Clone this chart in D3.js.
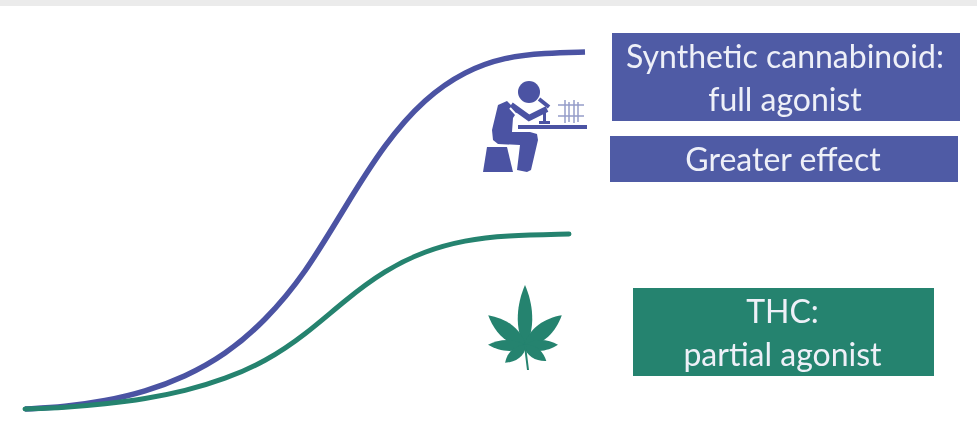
<!DOCTYPE html>
<html>
<head>
<meta charset="utf-8">
<script src="https://cdnjs.cloudflare.com/ajax/libs/d3/7.8.5/d3.min.js"></script>
<style>
  html, body { margin: 0; padding: 0; background: #fff; }
  svg { display: block; filter: blur(0.6px); }
  text { font-family: Lato, "Open Sans", sans-serif; fill: #eef0f8; text-anchor: middle; }
</style>
</head>
<body>
<div id="chart"></div>
<script>
// response curves
const fullDoses = [0, 7.14, 14.29, 21.43, 28.57, 35.71, 42.86, 50, 57.14, 64.29, 71.43, 78.57, 85.71, 92.86, 100];
const fullAgonist = [0, 0.6, 2.2, 4.8, 9, 15.1, 24.6, 37.8, 56.6, 74.5, 87.1, 94.7, 98.6, 99.7, 100];
const partialDoses = [0, 7.14, 14.29, 21.43, 28.57, 35.71, 42.86, 50, 57.14, 64.29, 71.43, 78.57, 85.71, 97.14];
const partialAgonist = [0, 0.4, 1.4, 2.8, 5, 8.4, 13.2, 20.7, 30.5, 38.9, 44.3, 47.3, 48.6, 49];

const purple = '#4f5ba5';
const curvePurple = '#4b53a3';
const green = '#25836f';

const labels = [
  { lines: ['Synthetic cannabinoid:', 'full agonist'], box: [612, 33, 348, 88], color: purple },
  { lines: ['Greater effect'], box: [610, 136, 348, 46], color: purple },
  { lines: ['THC:', 'partial agonist'], box: [633, 288, 301, 88], color: green }
];

// leaflets of the cannabis icon: angle from vertical, length, half width
const leaflets = [
  { angle: 0, length: 61, width: 8 },
  { angle: -50, length: 48, width: 8.5 },
  { angle: 50, length: 48, width: 8.5 },
  { angle: -88, length: 37, width: 6 },
  { angle: 88, length: 33, width: 6 },
  { angle: -130, length: 26, width: 6 },
  { angle: 125, length: 26, width: 6 }
];

const width = 977;
const height = 441;

const svg = d3.select('#chart')
  .append('svg')
  .attr('width', width)
  .attr('height', height);

svg.append('rect')
  .attr('width', width)
  .attr('height', 6)
  .attr('fill', '#ebebeb');

const x = d3.scaleLinear().domain([0, 100]).range([25, 585]);
const y = d3.scaleLinear().domain([0, 100]).range([409, 52]);

const line = d3.line()
  .x(d => x(d[0]))
  .y(d => y(d[1]))
  .curve(d3.curveBasis);

svg.append('path')
  .attr('d', line(d3.zip(fullDoses, fullAgonist)))
  .attr('fill', 'none')
  .attr('stroke', curvePurple)
  .attr('stroke-width', 5.5);

svg.append('path')
  .attr('d', line(d3.zip(partialDoses, partialAgonist)))
  .attr('fill', 'none')
  .attr('stroke', green)
  .attr('stroke-width', 5)
  .attr('stroke-linecap', 'round');

// label boxes
labels.forEach(label => {
  const [bx, by, bw, bh] = label.box;
  svg.append('rect')
    .attr('x', bx)
    .attr('y', by)
    .attr('width', bw)
    .attr('height', bh)
    .attr('fill', label.color);
  const lineHeight = 43;
  const top = by + bh / 2 - (label.lines.length - 1) * lineHeight / 2;
  label.lines.forEach((t, i) => {
    svg.append('text')
      .attr('x', bx + bw / 2 - 1)
      .attr('y', top + i * lineHeight + 1)
      .attr('dy', '0.35em')
      .attr('font-size', 32)
      .text(t);
  });
});

// scientist icon
const scientist = svg.append('g').attr('fill', curvePurple).attr('stroke', 'none');
scientist.append('circle').attr('cx', 529).attr('cy', 92).attr('r', 11);
scientist.append('path').attr('d', 'M487 147L507 147L513 172L483 172Z');
scientist.append('path')
  .attr('d', 'M507 101L498 105L492 130L493 140L498 144L520 145L517 170L527 172L531 170L538 140L537 134L530 132L512 132L513 118L517 112L510 104Z');
scientist.append('path')
  .attr('d', 'M511 105L529 118L547 109')
  .attr('fill', 'none')
  .attr('stroke', curvePurple)
  .attr('stroke-width', 6);
scientist.append('path')
  .attr('d', 'M510 108L521 120')
  .attr('fill', 'none')
  .attr('stroke', '#fff')
  .attr('stroke-width', 2);
scientist.append('path')
  .attr('d', 'M539 99L549 107')
  .attr('fill', 'none')
  .attr('stroke', curvePurple)
  .attr('stroke-width', 4);
scientist.append('rect').attr('x', 518).attr('y', 125).attr('width', 69).attr('height', 4);
scientist.append('path')
  .attr('d', 'M539 121L550 121L550 124L539 124ZM543 113L546 113L546 121L543 121Z');
const rack = svg.append('g').attr('stroke', purple).attr('stroke-width', 1.5).attr('fill', 'none').attr('opacity', 0.6);
rack.append('path').attr('d', 'M558 105L584 105M558 116L584 116M565 100L565 123M574 100L574 123M569 102L569 122M578 102L578 122');

// cannabis icon
const leaf = svg.append('g')
  .attr('transform', 'translate(525,346)')
  .attr('fill', green);

leaf.selectAll('path.leaflet')
  .data(leaflets)
  .enter()
  .append('path')
  .attr('class', 'leaflet')
  .attr('transform', d => `rotate(${d.angle})`)
  .attr('d', d => `M0 2C${-d.width * 1.4} ${-d.length * 0.3} ${-d.width} ${-d.length * 0.7} 0 ${-d.length}` +
    `C${d.width} ${-d.length * 0.7} ${d.width * 1.4} ${-d.length * 0.3} 0 2Z`);

leaf.append('path').attr('d', 'M0 0L3 24').attr('stroke', green).attr('stroke-width', 2);
</script>
</body>
</html>
